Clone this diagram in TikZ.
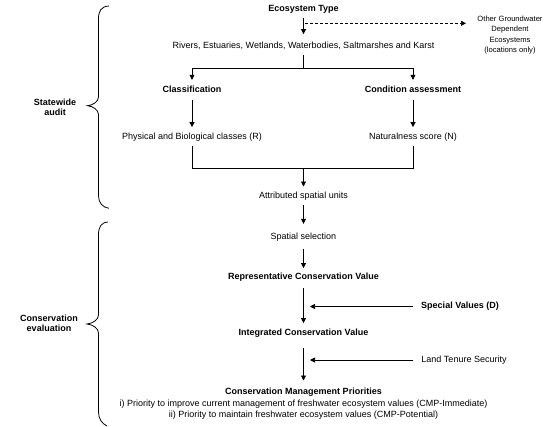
\documentclass[tikz,border=0pt]{standalone}
\usepackage{fontspec}
\setmainfont{Liberation Sans}
\usetikzlibrary{arrows.meta}
\begin{document}
\begin{tikzpicture}[x=1pt,y=-1pt,
  txt/.style={font=\fontsize{9}{10}\selectfont, inner sep=0pt, text height=6.5pt, text depth=2pt, anchor=center},
  bld/.style={txt, font=\fontsize{9}{10}\selectfont\bfseries},
  small/.style={font=\fontsize{7.6}{10.2}\selectfont, inner sep=0pt, align=center, anchor=center},
  lab/.style={font=\fontsize{9}{10}\selectfont\bfseries, inner sep=0pt, align=center, anchor=center},
  ln/.style={draw=black, line width=0.7pt, shorten <=4.5pt},
  arr/.style={ln, -{Triangle[width=5pt,length=5pt]}, shorten >=6pt},
  dasharr/.style={draw=black, line width=0.7pt, dash pattern=on 3pt off 2pt, -{Triangle[width=5pt,length=5pt]}},
  brc/.style={draw=black, line width=0.8pt}
]
\useasboundingbox (0,0) rectangle (554,426);

% nodes
\node[bld] (eco) at (303.5,9) {Ecosystem Type};
\node[small] (gw) at (510,35) {Other Groundwater\\Dependent\\Ecosystems\\(locations only)};
\node[txt] (riv) at (303.5,46.7) {Rivers, Estuaries, Wetlands, Waterbodies, Saltmarshes and Karst};
\node[bld] (cls) at (192,90.7) {Classification};
\node[bld] (cond) at (413,90.7) {Condition assessment};
\node[txt] (phys) at (192,137.3) {Physical and Biological classes (R)};
\node[txt] (nat) at (413,137.3) {Naturalness score (N)};
\node[txt] (attr) at (303.5,196.7) {Attributed spatial units};
\node[txt] (spat) at (303.5,237.3) {Spatial selection};
\node[bld] (rep) at (303.5,277.3) {Representative Conservation Value};
\node[bld] (spec) at (460,306.5) {Special Values (D)};
\node[bld] (integ) at (303.5,333.3) {Integrated Conservation Value};
\node[txt] (land) at (464,360.5) {Land Tenure Security};
\node[bld] (cmp) at (303.5,392.7) {Conservation Management Priorities};
\node[txt] (cmpi) at (303.5,404) {i) Priority to improve current management of freshwater ecosystem values (CMP-Immediate)};
\node[txt] (cmpii) at (303.5,415.3) {ii) Priority to maintain freshwater ecosystem values (CMP-Potential)};
\node[lab] (labA) at (55,107.7) {Statewide\\audit};
\node[lab] (labB) at (49,323.3) {Conservation\\evaluation};

% helper coordinates
\coordinate (d0) at (305,23.3);
\coordinate (d1) at (466,23.3);
\coordinate (j1) at (303.5,68.3);
\coordinate (j2) at (303.5,168);
\coordinate (s1) at (310,306.5);
\coordinate (l1) at (310,360);

% connectors
\draw[arr, shorten <=4.75pt, shorten >=8.15pt] (eco) -- (riv);
\draw[dasharr] (d0) -- (d1);
\draw[ln, shorten <=4.05pt] (riv) -- (j1);
\draw[arr, shorten <=0pt, shorten >=6.45pt] (j1) -| (cls);
\draw[arr, shorten <=0pt, shorten >=6.45pt] (j1) -| (cond);
\draw[arr, shorten <=4.35pt, shorten >=5.75pt] (cls) -- (phys);
\draw[arr, shorten <=4.35pt, shorten >=5.75pt] (cond) -- (nat);
\draw[ln, shorten <=4.45pt] (phys) |- (j2);
\draw[ln, shorten <=4.45pt] (nat) |- (j2);
\draw[arr, shorten <=0pt, shorten >=5.75pt] (j2) -- (attr);
\draw[arr, shorten <=4.05pt, shorten >=9.05pt] (attr) -- (spat);
\draw[arr, shorten <=6.75pt, shorten >=4.75pt] (spat) -- (rep);
\draw[arr, shorten <=6.45pt, shorten >=5.75pt] (rep) -- (integ);
\draw[arr, shorten <=10.45pt, shorten >=7.75pt] (integ) -- (cmp);
\draw[arr, shorten <=8pt, shorten >=0pt] (spec.west) -- (s1);
\draw[arr, shorten <=8pt, shorten >=0pt] (land.west |- l1) -- (l1);

% braces
\draw[brc] (109,6) .. controls (101,6.5) and (98.5,11) .. (98.5,19) -- (98.5,97)
  .. controls (98.5,101.5) and (93,105.2) .. (87.5,105.7)
  .. controls (93,106.2) and (98.5,110) .. (98.5,114.5) -- (98.5,196)
  .. controls (98.5,203) and (103,207.5) .. (109,208.3);
\draw[brc] (108,222) .. controls (101,222.5) and (98.5,227) .. (98.5,235) -- (98.5,315)
  .. controls (98.5,319.5) and (93,323.5) .. (87,324)
  .. controls (93,324.5) and (98.5,328.5) .. (98.5,333) -- (98.5,412)
  .. controls (98.5,419) and (102,423.5) .. (107,426);
\end{tikzpicture}
\end{document}
